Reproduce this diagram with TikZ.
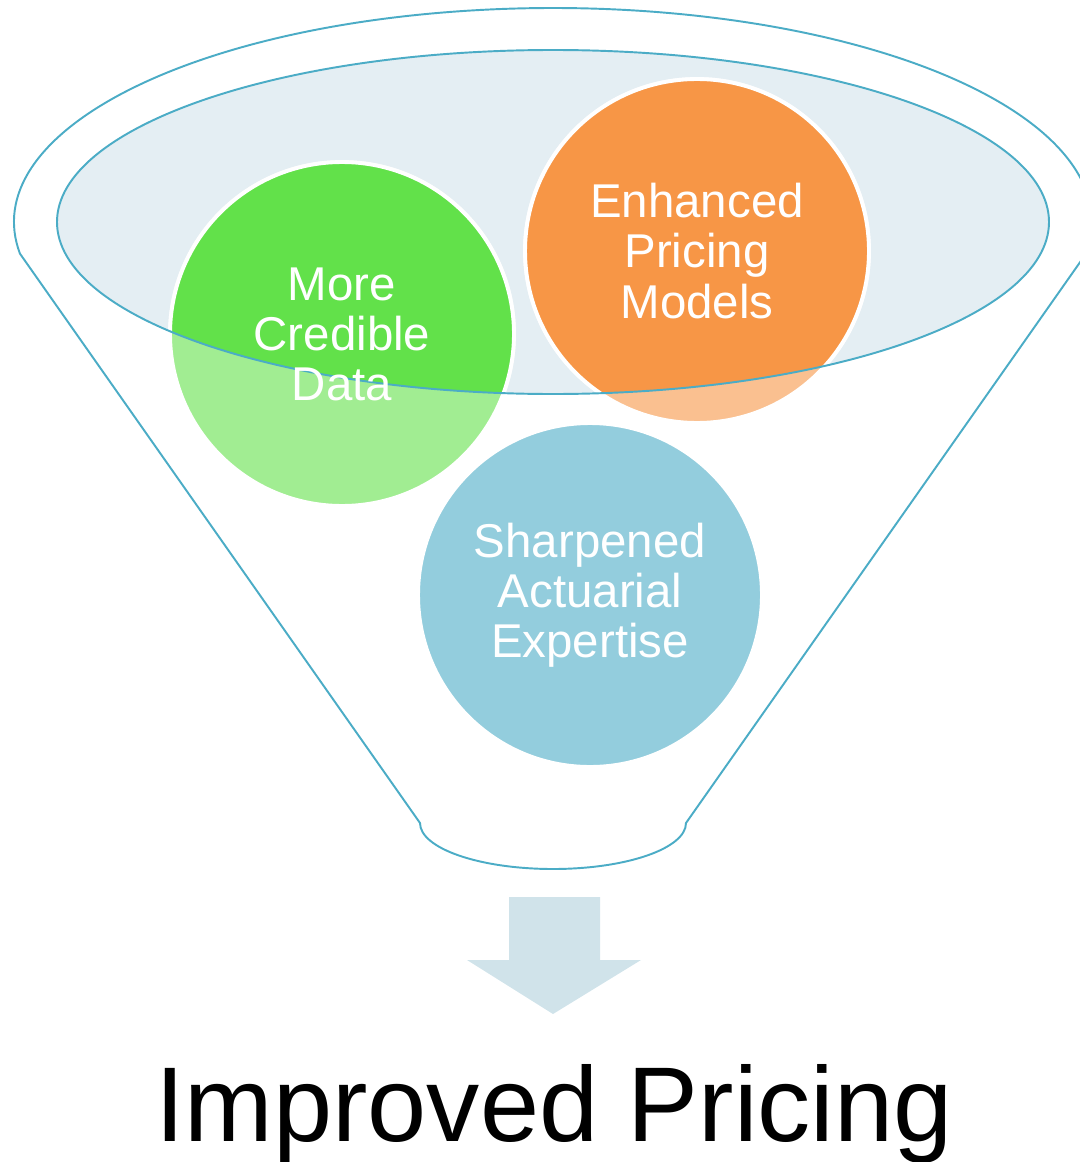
\documentclass[tikz,border=0pt]{standalone}
\usepackage{fontspec}
\setmainfont{Liberation Sans}
\usepackage{xcolor}
\definecolor{rimblue}{RGB}{75,172,198}
\definecolor{mouthfill}{RGB}{228,238,243}
\definecolor{datagreen}{RGB}{98,225,74}
\definecolor{modelorange}{RGB}{247,150,70}
\definecolor{expertblue}{RGB}{147,205,221}
\definecolor{arrowfill}{RGB}{208,227,234}
\usetikzlibrary{positioning}

\begin{document}
\begin{tikzpicture}[
      x=0.02cm,y=-0.02cm,
      rim/.style={draw=rimblue,line width=1.1pt},
      bubble/.style={circle,minimum size=6.88cm,inner sep=0pt,draw=white,line width=2.2pt},
      lbl/.style={text=white,align=center,font=\fontsize{27}{28.5}\selectfont}
    ]
    \useasboundingbox (0,0) rectangle (1079,1162);
    % funnel body: outer rim, straight sides, neck
    \draw[rim,fill=white] (553,222) ++(171.5:539 and 214)
    arc[start angle=171.5,end angle=368.5,x radius=539,y radius=214]
    -- (686,823) arc[start angle=0,end angle=180,x radius=133,y radius=46]
    -- cycle;
    \fill[mouthfill] (553,222) ellipse[x radius=496,y radius=172];
    % circles, paler where they leave the mouth
    \node[bubble,fill=datagreen!60] (data) at (342,334) {};
    \node[bubble,fill=modelorange!60] (models) at (697,251) {};
    \begin{scope}
      \clip (553,222) ellipse[x radius=496,y radius=172];
      \node[bubble,fill=datagreen] at (data) {};
      \node[bubble,fill=modelorange] at (models) {};
    \end{scope}
    \draw[rim] (553,222) ellipse[x radius=496,y radius=172];
    \node[bubble,fill=expertblue] (expertise) at (590,595) {};
    \node[lbl] at (data) {More\\Credible\\Data};
    \node[lbl] at (models) {Enhanced\\Pricing\\Models};
    \node[lbl] at (expertise) {Sharpened\\Actuarial\\Expertise};
    % output arrow
    \fill[arrowfill] (509,897) -- (600,897) -- (600,960) -- (641,960)
    -- (553,1014) -- (467,960) -- (509,960) -- cycle;
    \node[anchor=base,font=\fontsize{60.5}{66}\selectfont] (result) at (554,1141)
    {Improved Pricing};
  \end{tikzpicture}
\end{document}
